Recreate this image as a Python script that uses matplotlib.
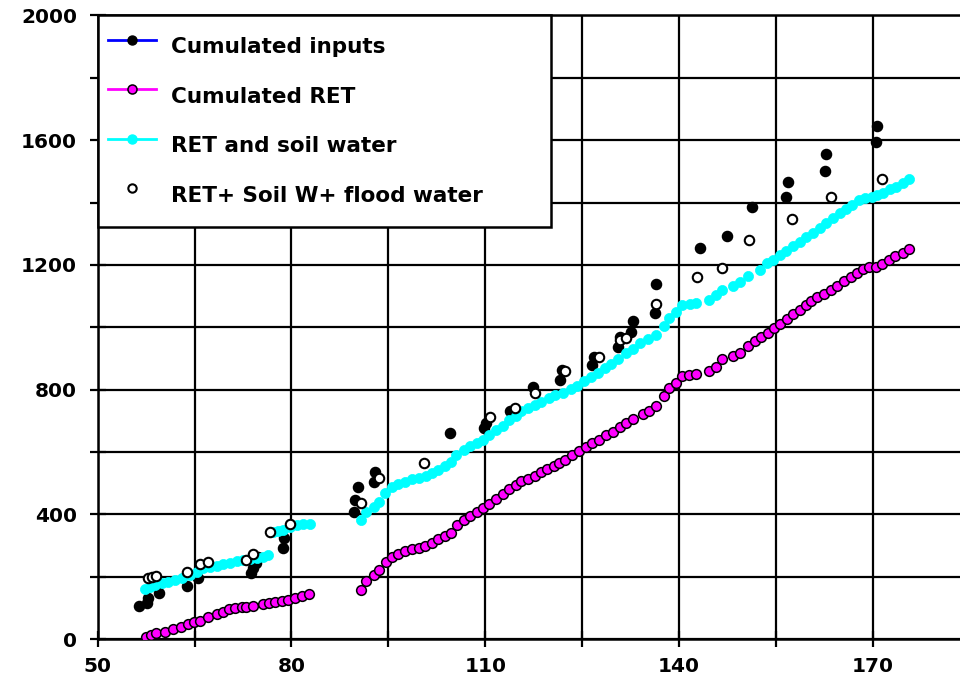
import matplotlib
matplotlib.use("Agg")
import matplotlib.pyplot as plt
from matplotlib.lines import Line2D
from matplotlib.ticker import FixedLocator

# ---- data ----
ret_day = [57.5, 58.3, 59.0, 60.4, 61.7, 62.9, 63.9, 64.9, 65.8, 67.0, 68.4, 69.4, 70.4,
           71.3, 72.4, 73.0, 74.0, 75.6, 76.5, 77.4, 78.5, 79.5, 80.5, 81.6, 82.7,
           90.7, 91.6, 92.7, 93.6, 94.6, 95.5, 96.5, 97.6, 98.6, 99.7, 100.7, 101.7, 102.7,
           103.8, 104.7, 105.7, 106.7, 107.7, 108.7, 109.6, 110.6, 111.7, 112.7, 113.7,
           114.8, 115.6, 116.6, 117.7, 118.6, 119.6, 120.6, 121.4, 122.3, 123.5, 124.5,
           125.6, 126.6, 127.6, 128.7, 129.7, 130.8, 131.8, 132.8, 134.4, 135.4, 136.5,
           137.6, 138.5, 139.5, 140.5, 141.6, 142.7, 144.7, 145.7, 146.7, 148.4, 149.5,
           150.7, 151.7, 152.7, 153.7, 154.7, 155.7, 156.7, 157.7, 158.7, 159.7, 160.5,
           161.4, 162.4, 163.5, 164.5, 165.5, 166.6, 167.6, 168.5, 169.4, 170.5, 171.5,
           172.5, 173.4, 174.6, 175.6]
ret_val = [7, 13, 18, 23, 31, 40, 48, 55, 59, 72, 79, 88, 95,
           98, 102, 104, 106, 111, 117, 120, 122, 125, 130, 138, 143,
           157, 186, 204, 221, 246, 262, 273, 282, 288, 293, 298, 307, 320,
           330, 341, 366, 382, 396, 408, 419, 433, 448, 465, 480,
           493, 507, 512, 523, 535, 545, 554, 564, 574, 590, 604,
           615, 628, 638, 654, 665, 681, 692, 705, 722, 731, 748,
           781, 804, 820, 844, 847, 850, 860, 874, 897, 909, 917,
           940, 955, 968, 983, 998, 1012, 1027, 1041, 1056, 1070, 1083,
           1096, 1107, 1120, 1132, 1149, 1162, 1173, 1186, 1192, 1194, 1202,
           1216, 1230, 1237, 1250]

soil_day = [57.3, 58.1, 58.9, 59.9, 60.9, 62.0, 63.0, 64.3, 65.3, 66.3, 67.4, 68.4, 69.4,
            70.5, 71.5, 72.5, 73.6, 74.6, 75.6, 76.3,
            77.2, 77.9, 78.7, 79.8, 80.8, 81.8, 82.9,
            90.7, 91.6, 92.7, 93.6, 94.5, 95.5, 96.5, 97.6, 98.6, 99.7, 100.8, 101.7, 102.7,
            103.8, 104.7, 105.5, 106.7, 107.7, 108.7, 109.7, 110.6, 111.7, 112.7, 113.7,
            114.8, 115.6, 116.6, 117.7, 118.7, 119.8, 120.8, 122.0, 123.2, 124.2, 125.3,
            126.3, 127.5, 128.5, 129.5, 130.5, 131.8, 132.9, 134.0, 135.2, 136.5, 137.6,
            138.5, 139.5, 140.5, 141.7, 142.7, 144.7, 145.7, 146.7, 148.4, 149.5, 150.7,
            152.5, 153.6, 154.6, 155.6, 156.6, 157.7, 158.7, 159.7, 160.8, 161.8, 162.8,
            163.8, 164.9, 165.8, 166.8, 167.9, 168.8, 169.8, 170.6, 171.6, 172.6, 173.6,
            174.6, 175.6]
soil_val = [159, 166, 173, 179, 184, 189, 195, 205, 216, 227, 232, 234, 241,
            245, 250, 253, 256, 259, 262, 268,
            344, 347, 350, 360, 366, 369, 370,
            382, 408, 424, 440, 467, 489, 497, 505, 512, 516, 523, 532, 542,
            555, 569, 590, 606, 619, 628, 638, 654, 670, 683, 703,
            715, 732, 740, 751, 761, 772, 784, 790, 801, 812, 826,
            840, 854, 868, 882, 897, 917, 929, 951, 962, 975, 1004,
            1029, 1050, 1072, 1075, 1077, 1088, 1104, 1120, 1132, 1146, 1165,
            1184, 1205, 1216, 1232, 1243, 1259, 1275, 1291, 1302, 1317, 1334,
            1350, 1366, 1379, 1392, 1408, 1414, 1419, 1424, 1432, 1443, 1451,
            1462, 1475]

inp_day = [56.4, 57.6, 57.8, 59.5, 63.8, 65.6, 73.8, 74.1, 74.5, 74.8, 78.7, 78.9,
           89.7, 89.8, 90.3, 92.7, 92.9, 104.5, 109.8, 110.1, 113.8, 117.4, 121.6,
           121.9, 126.6, 126.9, 130.5, 130.8, 132.6, 132.9, 136.3, 136.4, 143.3,
           147.4, 151.3, 156.6, 156.8, 162.6, 162.8, 170.5, 170.7]
inp_val = [106, 115, 131, 147, 170, 195, 211, 227, 243, 262, 291, 323,
           408, 446, 489, 505, 537, 660, 676, 692, 732, 809, 831,
           863, 879, 906, 936, 970, 986, 1020, 1047, 1138, 1253,
           1293, 1385, 1419, 1467, 1502, 1556, 1595, 1644]

flood_day = [57.8, 58.4, 59.0, 63.8, 65.8, 67.0, 73.0, 74.0, 76.7, 79.8,
             90.7, 93.6, 100.5, 110.7, 114.6, 117.7, 122.3, 127.6, 130.8, 131.8,
             136.5, 142.8, 146.7, 150.9, 157.5, 163.5, 171.5]
flood_val = [195, 198, 203, 216, 241, 248, 253, 273, 344, 369,
             435, 516, 566, 713, 740, 788, 861, 906, 959, 965,
             1075, 1160, 1189, 1280, 1347, 1417, 1475]

x_labels = [50, 80, 110, 140, 170]
x_grid_extra = [65, 95, 125, 155]
y_labels = [0, 400, 800, 1200, 1600, 2000]
y_grid_extra = [200, 600, 1000, 1400, 1800]
labels = ["Cumulated inputs", "Cumulated RET", "RET and soil water",
          "RET+ Soil W+ flood water"]

# ---- figure ----
fig = plt.figure(figsize=(9.6, 6.79), dpi=100)
ax = fig.add_axes([0.1018, 0.0589, 0.8982, 0.9183])

ax.plot(inp_day, inp_val, ls="none", marker="o", ms=7.3, mfc="black", mec="black", zorder=3)
ax.plot(ret_day, ret_val, ls="none", marker="o", ms=7.0, mfc="#ff00ff", mec="black",
        mew=1.1, zorder=4)
ax.plot(soil_day, soil_val, ls="none", marker="o", ms=7.3, mfc="#00ffff", mec="#00ffff",
        mew=0.5, zorder=5)
ax.plot(flood_day, flood_val, ls="none", marker="o", ms=6.8, mfc="white", mec="black",
        mew=1.5, zorder=6)

ax.set_xlim(50, 183.5)
ax.set_ylim(0, 2000)
ax.xaxis.set_major_locator(FixedLocator(x_labels))
ax.xaxis.set_minor_locator(FixedLocator(x_grid_extra))
ax.yaxis.set_major_locator(FixedLocator(y_labels))
ax.yaxis.set_minor_locator(FixedLocator(y_grid_extra))
ax.grid(True, which="both", color="black", lw=1.6)
ax.set_axisbelow(True)

ax.tick_params(which="both", direction="inout", length=12, width=1.6, color="black")
ax.tick_params(axis="y", which="major", pad=9)
ax.tick_params(axis="x", which="major", pad=7)
for lab in ax.get_xticklabels() + ax.get_yticklabels():
    lab.set_fontsize(14.5)
    lab.set_fontweight("bold")

for s in ["left", "bottom", "top"]:
    ax.spines[s].set_linewidth(1.8)
ax.spines["right"].set_visible(False)

handles = [
    Line2D([], [], color="#0000ff", lw=2, marker="o", ms=6.5, mfc="black", mec="black"),
    Line2D([], [], color="#ff00ff", lw=2, marker="o", ms=6.5, mfc="#ff00ff", mec="black", mew=1.1),
    Line2D([], [], color="#00ffff", lw=2, marker="o", ms=6.5, mfc="#00ffff", mec="#00ffff"),
    Line2D([], [], ls="none", marker="o", ms=6, mfc="white", mec="black", mew=1.5),
]
leg = ax.legend(handles, labels, loc="upper left", bbox_to_anchor=(0, 0, 0.5257, 1),
                mode="expand", borderaxespad=0, fancybox=False, framealpha=1,
                edgecolor="black", prop={"size": 15.5, "weight": "bold"},
                handlelength=2.2, handletextpad=0.7, handleheight=2.55,
                labelspacing=0.4, borderpad=0.5)
leg.get_frame().set_linewidth(1.8)
leg.set_zorder(10)

fig.savefig("out.png", dpi=100)
